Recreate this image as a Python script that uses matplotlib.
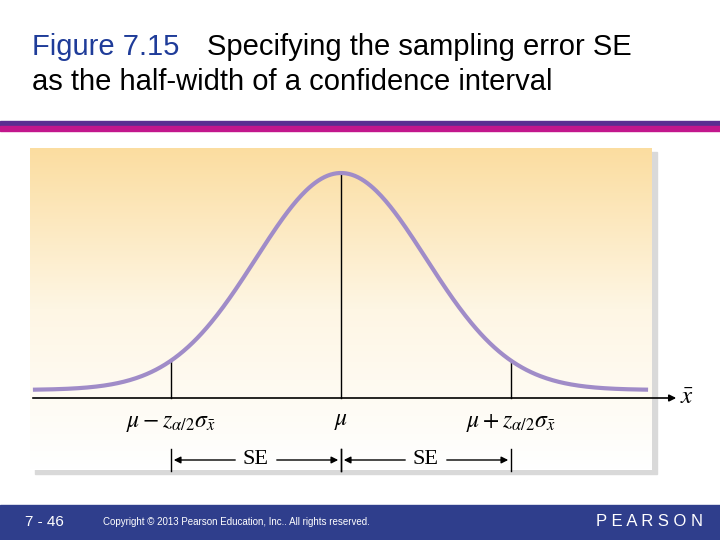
import numpy as np
import matplotlib.pyplot as plt
from matplotlib.patches import Rectangle
from matplotlib.colors import LinearSegmentedColormap

plt.rcParams['mathtext.fontset'] = 'stix'

# diagram parameters (pixel units of the slide)
mu = 341
sigma = 85
z = 2.0
peak_h = 217
x_lo, x_hi = 35, 646
base_y = 390

fig = plt.figure(figsize=(7.2, 5.4), dpi=100)
ax = fig.add_axes([0, 0, 1, 1])

# title
ax.text(32, 47, 'Figure 7.15', color='#1F3C99', fontsize=21, va='center', family='Liberation Sans')
ax.text(207, 47, 'Specifying the sampling error SE', color='black', fontsize=21, va='center', family='Liberation Sans')
ax.text(32, 82, 'as the half-width of a confidence interval', color='black', fontsize=21, va='center', family='Liberation Sans')

# header bars
ax.add_patch(Rectangle((0, 121), 720, 5, color='#5A2D91'))
ax.add_patch(Rectangle((0, 126), 720, 5, color='#C2168C'))

# panel shadow + gradient
ax.add_patch(Rectangle((35, 152), 622, 322, color='#D9D9D9', zorder=1))
grad = np.linspace(0, 1, 256).reshape(-1, 1)
cmap = LinearSegmentedColormap.from_list('g', ['#FBDDA0', '#FEF6E4', '#FFFFFF'])
ax.imshow(grad, extent=(30, 652, 470, 148), aspect='auto', cmap=cmap, zorder=2)
ax.set_xlim(0, 720)
ax.set_ylim(540, 0)
ax.axis('off')

# curve
xs = np.linspace(x_lo, x_hi, 400)
ys = base_y - peak_h * np.exp(-0.5 * ((xs - mu) / sigma) ** 2)
ax.plot(xs, ys, color='#A08CC8', lw=3, zorder=4)

for xv in [mu - z * sigma, mu, mu + z * sigma]:
    yv = base_y - peak_h * np.exp(-0.5 * ((xv - mu) / sigma) ** 2)
    ax.plot([xv, xv], [398, yv], color='black', lw=1, zorder=3)

# axis
ax.annotate('', xy=(679, 398), xytext=(30, 398),
            arrowprops=dict(arrowstyle='-|>', color='black', lw=1.2), zorder=5)
ax.text(680, 397, r'$\bar{x}$', fontsize=18, va='center')

lab = dict(fontsize=17, ha='center', va='center')
ax.text(mu - z * sigma, 422, r'$\mu - z_{\alpha/2}\sigma_{\bar{x}}$', **lab)
ax.text(mu, 420, r'$\mu$', **lab)
ax.text(mu + z * sigma, 422, r'$\mu + z_{\alpha/2}\sigma_{\bar{x}}$', **lab)

# SE arrows
for a, b in [(mu - z * sigma, mu), (mu, mu + z * sigma)]:
    ax.plot([a, a], [449, 471], color='black', lw=1)
    ax.plot([b, b], [449, 471], color='black', lw=1)
    m = (a + b) / 2
    ax.annotate('', xy=(a, 460), xytext=(m - 18, 460), arrowprops=dict(arrowstyle='-|>', color='black', lw=1))
    ax.annotate('', xy=(b, 460), xytext=(m + 18, 460), arrowprops=dict(arrowstyle='-|>', color='black', lw=1))
    ax.text(m, 460, 'SE', fontsize=16, ha='center', va='center', family='Liberation Serif')

# footer
ax.add_patch(Rectangle((0, 505), 720, 35, color='#2F3E8C', zorder=5))
ax.text(25, 522, '7 - 46', color='white', fontsize=11, va='center', zorder=6, family='Liberation Sans')
ax.text(103, 522, 'Copyright \u00a9 2013 Pearson Education, Inc.. All rights reserved.',
        color='white', fontsize=7, va='center', zorder=6, family='Liberation Sans')
ax.text(703, 521, 'P E A R S O N', color='white', fontsize=12, ha='right', va='center', zorder=6,
        family='Liberation Sans')

fig.savefig('out.png')
